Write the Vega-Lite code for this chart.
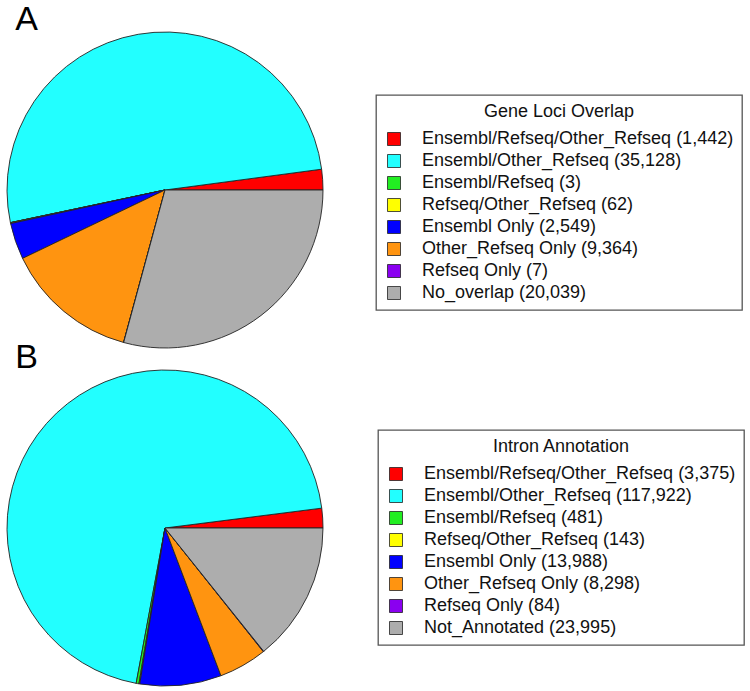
{
  "$schema": "https://vega.github.io/schema/vega-lite/v6.json",
  "background": "white",
  "padding": {"left": 5, "top": 3, "right": 0, "bottom": 0},
  "bounds": "flush",
  "spacing": 22,
  "config": {
    "view": {"stroke": null},
    "font": "Liberation Sans",
    "title": {"fontSize": 34, "fontWeight": "normal", "anchor": "start", "color": "black", "font": "Liberation Sans", "offset": -7, "dx": 10},
    "legend": {
      "orient": "none",
      "strokeColor": "#555555",
      "strokeWidth": 1.3,
      "padding": 8,
      "titleFontSize": 18,
      "titleFontWeight": "normal",
      "titleColor": "#111111",
      "titleAnchor": "middle",
      "titlePadding": 9,
      "labelFontSize": 18,
      "labelColor": "#111111",
      "labelLimit": 500,
      "labelOffset": 19,
      "symbolOffset": 1,
      "rowPadding": 4,
      "symbolType": "square",
      "symbolSize": 169,
      "symbolStrokeColor": "#222222",
      "symbolStrokeWidth": 0.8,
      "symbolOpacity": 1
    }
  },
  "resolve": {"scale": {"color": "independent", "theta": "independent"}, "legend": {"color": "independent"}},
  "vconcat": [
    {
      "title": "A",
      "width": 316,
      "height": 316,
      "data": {"values": [
        {"category": "Ensembl/Refseq/Other_Refseq (1,442)", "count": 1442, "ord": 1},
        {"category": "Ensembl/Other_Refseq (35,128)", "count": 35128, "ord": 2},
        {"category": "Ensembl/Refseq (3)", "count": 3, "ord": 3},
        {"category": "Refseq/Other_Refseq (62)", "count": 62, "ord": 4},
        {"category": "Ensembl Only (2,549)", "count": 2549, "ord": 5},
        {"category": "Other_Refseq Only (9,364)", "count": 9364, "ord": 6},
        {"category": "Refseq Only (7)", "count": 7, "ord": 7},
        {"category": "No_overlap (20,039)", "count": 20039, "ord": 8}
      ]},
      "mark": {"type": "arc", "outerRadius": 158, "stroke": "#222222", "strokeWidth": 0.9},
      "encoding": {
        "theta": {"field": "count", "type": "quantitative", "stack": true, "scale": {"range": [1.5707963, -4.712389]}},
        "order": {"field": "ord", "type": "quantitative"},
        "color": {
          "field": "category", "type": "nominal", "sort": {"field": "ord"},
          "scale": {
            "domain": ["Ensembl/Refseq/Other_Refseq (1,442)", "Ensembl/Other_Refseq (35,128)", "Ensembl/Refseq (3)", "Refseq/Other_Refseq (62)", "Ensembl Only (2,549)", "Other_Refseq Only (9,364)", "Refseq Only (7)", "No_overlap (20,039)"],
            "range": ["#ff0000", "#22ffff", "#22ee22", "#ffff00", "#0000ff", "#ff9410", "#8a00f0", "#adadad"]
          },
          "legend": {"title": "Gene Loci Overlap", "legendX": 369, "legendY": 63}
        }
      }
    },
    {
      "title": "B",
      "width": 316,
      "height": 316,
      "data": {"values": [
        {"category": "Ensembl/Refseq/Other_Refseq (3,375)", "count": 3375, "ord": 1},
        {"category": "Ensembl/Other_Refseq (117,922)", "count": 117922, "ord": 2},
        {"category": "Ensembl/Refseq (481)", "count": 481, "ord": 3},
        {"category": "Refseq/Other_Refseq (143)", "count": 143, "ord": 4},
        {"category": "Ensembl Only (13,988)", "count": 13988, "ord": 5},
        {"category": "Other_Refseq Only (8,298)", "count": 8298, "ord": 6},
        {"category": "Refseq Only (84)", "count": 84, "ord": 7},
        {"category": "Not_Annotated (23,995)", "count": 23995, "ord": 8}
      ]},
      "mark": {"type": "arc", "outerRadius": 158, "stroke": "#222222", "strokeWidth": 0.9},
      "encoding": {
        "theta": {"field": "count", "type": "quantitative", "stack": true, "scale": {"range": [1.5707963, -4.712389]}},
        "order": {"field": "ord", "type": "quantitative"},
        "color": {
          "field": "category", "type": "nominal", "sort": {"field": "ord"},
          "scale": {
            "domain": ["Ensembl/Refseq/Other_Refseq (3,375)", "Ensembl/Other_Refseq (117,922)", "Ensembl/Refseq (481)", "Refseq/Other_Refseq (143)", "Ensembl Only (13,988)", "Other_Refseq Only (8,298)", "Refseq Only (84)", "Not_Annotated (23,995)"],
            "range": ["#ff0000", "#22ffff", "#22ee22", "#ffff00", "#0000ff", "#ff9410", "#8a00f0", "#adadad"]
          },
          "legend": {"title": "Intron Annotation", "legendX": 371, "legendY": 60}
        }
      }
    }
  ]
}
